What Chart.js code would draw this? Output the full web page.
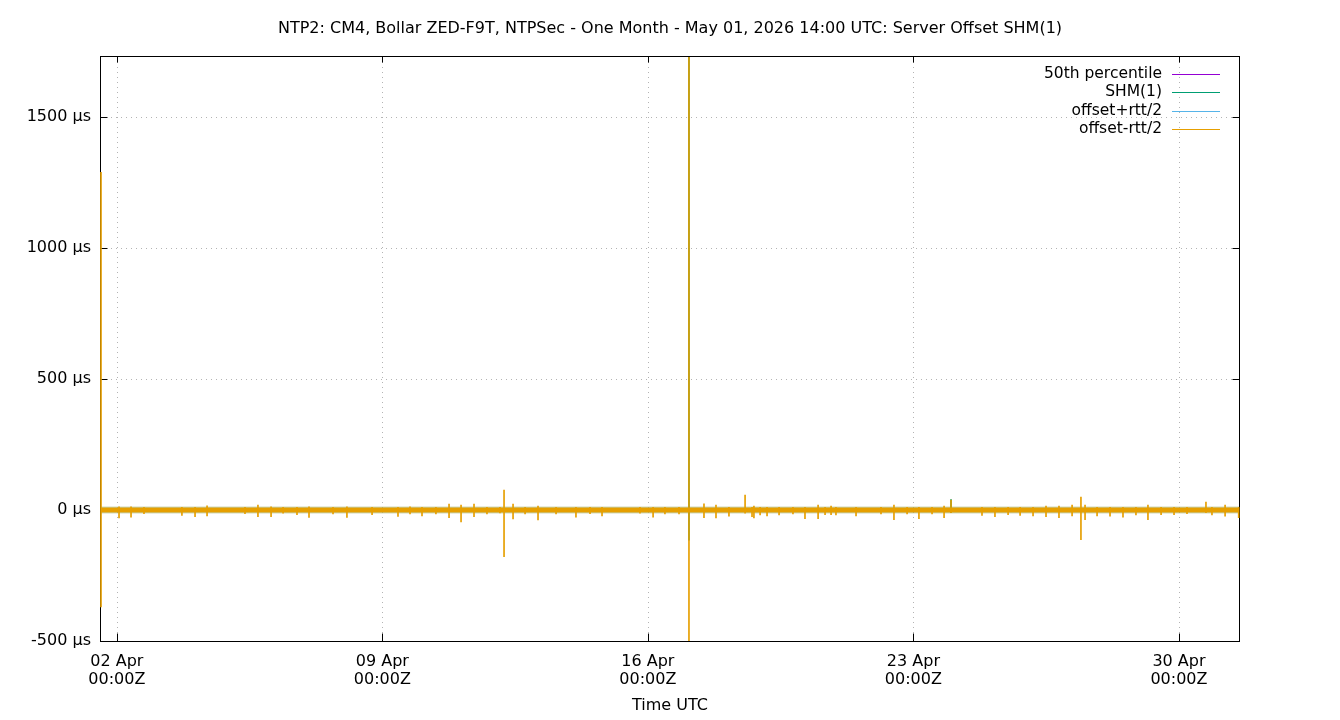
<!DOCTYPE html>
<html>
<head>
<meta charset="utf-8">
<title>NTP2 Server Offset SHM(1)</title>
<script src="https://cdn.jsdelivr.net/npm/chart.js@4.4.1/dist/chart.umd.min.js"></script>
<style>
  html, body { margin: 0; padding: 0; background: #fff; }
  #wrap { width: 1340px; height: 720px; }
</style>
</head>
<body>
<div id="wrap"><canvas id="chart" width="1340" height="720"></canvas></div>
<script>
// x values are hours since 2026-04-01 14:00 UTC, y values are microseconds
const titleText = 'NTP2: CM4, Bollar ZED-F9T, NTPSec - One Month - May 01, 2026 14:00 UTC: Server Offset SHM(1)';
const xTickHours = [10, 178, 346, 514, 682];
const xTickLabels = [['02 Apr', '00:00Z'], ['09 Apr', '00:00Z'], ['16 Apr', '00:00Z'], ['23 Apr', '00:00Z'], ['30 Apr', '00:00Z']];
const yTickValues = [-500, 0, 500, 1000, 1500];

const legendLabels = ['50th percentile', 'SHM(1)', 'offset+rtt/2', 'offset-rtt/2'];
const seriesColors = ['#9400d3', '#009e73', '#56b4e9', '#e69f00'];

// steady noise band over the whole month
const bandHours = [0, 720];
const medianOffset = [0, 0];
const shmUpper = [14, 14];
const shmLower = [-13, -13];
const plusUpper = [12, 12];
const plusLower = [-11, -11];
const minusUpper = [10, 10];
const minusLower = [-9, -9];

// offset-rtt/2 excursions (min / max of each burst)
const spikeHours = [0, 11.4, 19.0, 27.2, 51.2, 59.5, 67.1, 91.1, 99.3, 107.6, 115.2,
  124.0, 131.6, 146.8, 155.6, 171.5, 187.9, 195.5, 203.1, 211.9, 220.2, 227.8, 236.0,
  244.2, 252.4, 255.0, 260.7, 268.3, 276.5, 287.9, 300.5, 309.4, 317.0, 341.0, 349.3,
  356.8, 365.7, 372.0, 381.5, 389.1, 397.3, 407.5, 411.9, 413.1, 417.0, 421.4, 429.0,
  437.8, 445.4, 453.7, 458.1, 461.9, 465.0, 477.7, 493.5, 501.7, 510.0, 517.5, 525.8,
  533.4, 537.8, 557.4, 565.6, 573.9, 581.5, 589.7, 597.9, 606.1, 614.4, 620.0, 622.6,
  630.2, 638.4, 646.6, 654.8, 662.4, 670.7, 678.9, 687.1, 699.1, 702.9, 711.2, 719.8];
const spikeHigh = [1290, 12, 12, 10, 10, 10, 16, 10, 19, 12, 10,
  10, 12, 10, 12, 10, 10, 12, 10, 10, 23, 19, 23,
  10, 10, 76, 23, 10, 15, 10, 10, 10, 10, 10, 10,
  10, 10, 1800, 24, 19, 10, 57, 10, 15, 10, 10, 10,
  10, 10, 19, 10, 15, 10, 10, 10, 19, 10, 10, 10,
  15, 38, 10, 10, 10, 10, 10, 15, 15, 19, 50, 19,
  10, 10, 10, 10, 19, 10, 10, 10, 30, 10, 19, 10];
const spikeLow = [-370, -30, -27, -14, -20, -25, -22, -14, -25, -25, -12,
  -18, -28, -15, -28, -18, -24, -15, -22, -15, -29, -45, -25,
  -15, -11, -178, -34, -15, -38, -15, -27, -14, -22, -12, -27,
  -15, -15, -600, -29, -30, -23, -12, -25, -30, -19, -22, -19,
  -15, -33, -33, -18, -18, -19, -22, -15, -37, -15, -33, -15,
  -29, -10, -20, -25, -18, -20, -22, -25, -29, -22, -113, -37,
  -22, -23, -27, -19, -37, -18, -18, -14, -10, -19, -23, -29];

// SHM(1) excursions
const shmSpikeHours = [372.0, 537.8];
const shmSpikeHigh = [1730, 40];
const shmSpikeLow = [-115, -10];

const FONT = "'DejaVu Sans', sans-serif";

function pairs(xs, ys) {
  return xs.map((x, i) => ({ x: x, y: ys[i] }));
}
function ranges(xs, lo, hi) {
  return xs.map((x, i) => ({ x: x, y: [lo[i], hi[i]] }));
}

const gnuplotFrame = {
  id: 'gnuplotFrame',
  beforeDatasetsDraw(chart) {
    const { ctx, chartArea: a, scales: { x, y } } = chart;
    const line = (x1, y1, x2, y2) => { ctx.beginPath(); ctx.moveTo(x1, y1); ctx.lineTo(x2, y2); ctx.stroke(); };
    ctx.save();
    // dotted grid
    ctx.strokeStyle = '#b4b4b4';
    ctx.lineWidth = 1;
    ctx.setLineDash([1, 4]);
    xTickHours.forEach(h => {
      const px = Math.round(x.getPixelForValue(h)) + 0.5;
      line(px, a.top, px, a.bottom);
    });
    yTickValues.forEach(v => {
      const py = Math.round(y.getPixelForValue(v)) + 0.5;
      line(a.left, py, a.right, py);
    });
    // border and inward ticks
    ctx.setLineDash([]);
    ctx.strokeStyle = '#000';
    const l = a.left - 0.5, r = a.right + 0.5, t = a.top - 0.5, b = a.bottom + 0.5;
    ctx.strokeRect(l, t, r - l, b - t);
    xTickHours.forEach(h => {
      const px = Math.round(x.getPixelForValue(h)) + 0.5;
      line(px, b, px, b - 8);
      line(px, t, px, t + 6);
    });
    yTickValues.forEach(v => {
      const py = Math.round(y.getPixelForValue(v)) + 0.5;
      line(l, py, l + 7, py);
      line(r, py, r - 7, py);
    });
    ctx.restore();
  },
  afterDraw(chart) {
    const { ctx, chartArea: a } = chart;
    ctx.save();
    ctx.fillStyle = '#000';
    ctx.font = '16px ' + FONT;
    ctx.textBaseline = 'middle';
    ctx.textAlign = 'center';
    ctx.fillText(titleText, (a.left + a.right) / 2, 29);
    ctx.fillText('Time UTC', (a.left + a.right) / 2, 706);
    // legend, gnuplot style: text right aligned, sample line on the right
    ctx.font = '15.5px ' + FONT;
    ctx.textAlign = 'right';
    legendLabels.forEach((label, i) => {
      const yy = 74 + i * 18.3;
      ctx.fillStyle = '#000';
      ctx.fillText(label, 1162, yy);
      ctx.strokeStyle = seriesColors[i];
      ctx.lineWidth = 1;
      ctx.beginPath();
      ctx.moveTo(1172, Math.round(yy) + 0.5);
      ctx.lineTo(1220, Math.round(yy) + 0.5);
      ctx.stroke();
    });
    ctx.restore();
  }
};

const bandLine = (data, color, fillTarget, order) => ({
  type: 'line',
  data: data,
  borderWidth: 0,
  borderColor: 'transparent',
  backgroundColor: color,
  pointRadius: 0,
  fill: fillTarget,
  order: order
});

new Chart(document.getElementById('chart'), {
  type: 'bar',
  data: {
    datasets: [
      // 50th percentile
      { type: 'line', data: pairs(bandHours, medianOffset), borderColor: seriesColors[0], borderWidth: 1, pointRadius: 0, fill: false, order: 9 },
      // SHM(1) band and excursions
      bandLine(pairs(bandHours, shmUpper), 'rgba(150,170,100,0.45)', '+1', 8),
      bandLine(pairs(bandHours, shmLower), 'transparent', false, 8),
      { data: ranges(shmSpikeHours, shmSpikeLow, shmSpikeHigh), backgroundColor: seriesColors[1], barThickness: 1, order: 7 },
      // offset+rtt/2 band
      bandLine(pairs(bandHours, plusUpper), 'rgba(86,180,233,0.15)', '+1', 6),
      bandLine(pairs(bandHours, plusLower), 'transparent', false, 6),
      // offset-rtt/2 band and excursions, on top
      bandLine(pairs(bandHours, minusUpper), seriesColors[3], '+1', 2),
      bandLine(pairs(bandHours, minusLower), 'transparent', false, 2),
      { data: ranges(spikeHours, spikeLow, spikeHigh), backgroundColor: seriesColors[3], barThickness: 1, order: 1,
        clip: { left: 2, right: 2, top: 0, bottom: 0 } }
    ]
  },
  options: {
    responsive: false,
    animation: false,
    events: [],
    layout: { padding: { top: 57, right: 101, left: 0, bottom: 0 } },
    datasets: { bar: { grouped: false } },
    plugins: {
      legend: { display: false },
      title: { display: false },
      tooltip: { enabled: false }
    },
    scales: {
      x: {
        type: 'linear',
        min: 0,
        max: 720,
        offset: false,
        grid: { display: false, drawTicks: false },
        border: { display: false },
        afterBuildTicks: (scale) => { scale.ticks = xTickHours.map(v => ({ value: v })); },
        afterFit: (scale) => { scale.height = 79; },
        ticks: {
          autoSkip: false,
          maxRotation: 0,
          padding: 12,
          color: '#000',
          font: { family: FONT, size: 16, lineHeight: 1.125 },
          callback: (value, index) => xTickLabels[index]
        }
      },
      y: {
        min: -500,
        max: 1730,
        grid: { display: false, drawTicks: false },
        border: { display: false },
        afterBuildTicks: (scale) => { scale.ticks = yTickValues.map(v => ({ value: v })); },
        afterFit: (scale) => { scale.width = 101; },
        ticks: {
          padding: 10,
          color: '#000',
          font: { family: FONT, size: 16 },
          callback: (value) => value + ' µs'
        }
      }
    }
  },
  plugins: [gnuplotFrame]
});
</script>
</body>
</html>
